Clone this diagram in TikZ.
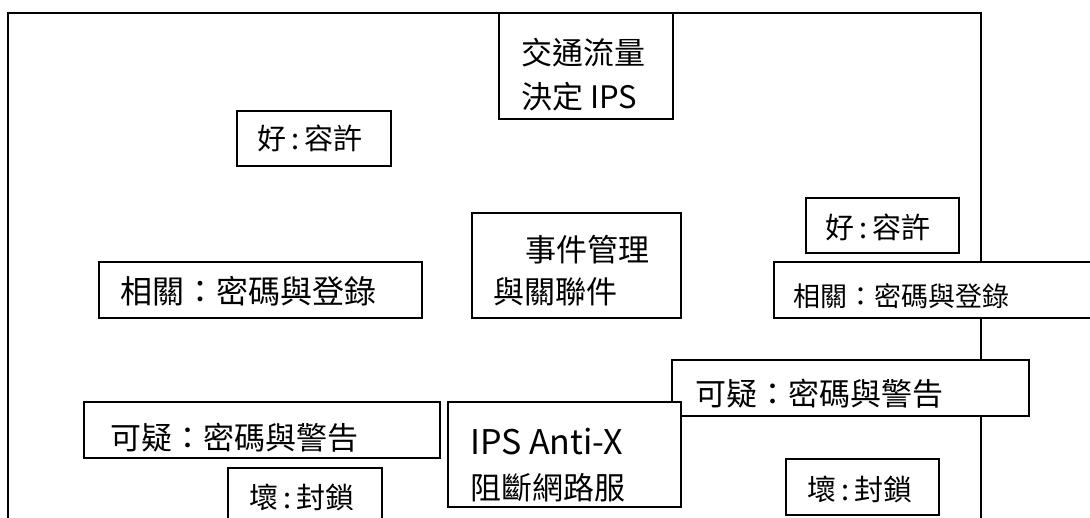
\documentclass[tikz,border=0pt]{standalone}
\usepackage{fontspec}
\setmainfont{Noto Sans CJK TC}
\begin{document}
\begin{tikzpicture}[x=1pt,y=-1pt,
  frameline/.style={draw=black, line width=1.6pt},
  boxline/.style={draw=black, line width=1.3pt, fill=white},
  txt/.style={anchor=west, inner sep=0pt, text=black},
  fa/.style={font=\fontsize{31}{36}\selectfont},
  fb/.style={font=\fontsize{29}{34}\selectfont},
  fc/.style={font=\fontsize{32}{36}\selectfont},
  fd/.style={font=\fontsize{27}{32}\selectfont},
  fe/.style={font=\fontsize{34}{38}\selectfont}]
\useasboundingbox (0,0) rectangle (1090,518);
\clip (0,0) rectangle (1090,518);
% outer frame
\draw[frameline] (8,540) -- (8,13) -- (981,13) -- (981,540);
% traffic box
\path[boxline] (499,13) rectangle (673,119);
\node[txt,fa] (t1) at (521,53) {交通流量};
\node[txt,fa] (t2) at (521,97) {決定 IPS};
% good left
\path[boxline] (237,111) rectangle (391,166);
\node[txt,fb] (g1) at (257,138) {好\kern5pt:\kern5pt容許};
% event mgmt
\path[boxline] (472,213) rectangle (681,318);
\node[txt,fa] (e1) at (525,250) {事件管理};
\node[txt,fa] (e2) at (493,292) {與關聯件};
% good right
\path[boxline] (806,198) rectangle (959,253);
\node[txt,fb] (g2) at (825,227) {好\kern5pt:\kern5pt容許};
% related left
\path[boxline] (99,262) rectangle (422,318);
\node[txt,fc] (r1) at (120,291) {相關：密碼與登錄};
% related right
\path[boxline] (774,262) rectangle (1100,318);
\node[txt,fd] (r2) at (793,296) {相關：密碼與登錄};
% suspicious right
\path[boxline] (672,360) rectangle (1029,416);
\node[txt,fa] (s2) at (695,394) {可疑：密碼與警告};
% suspicious left
\path[boxline] (84,402) rectangle (440,458);
\node[txt,fa] (s1) at (110,438) {可疑：密碼與警告};
% IPS box
\path[boxline] (448,402) rectangle (681,507);
\node[txt,fe] (i1) at (470,442) {IPS Anti-X};
\node[txt,fa] (i2) at (470,488) {阻斷網路服};
% bad left
\path[boxline] (228,468) rectangle (382,540);
\node[txt,fb] (b1) at (249,497) {壞\kern5pt:\kern5pt封鎖};
% bad right
\path[boxline] (786,459) rectangle (939,515);
\node[txt,fb] (b2) at (807,489) {壞\kern5pt:\kern5pt封鎖};
\end{tikzpicture}
\end{document}
